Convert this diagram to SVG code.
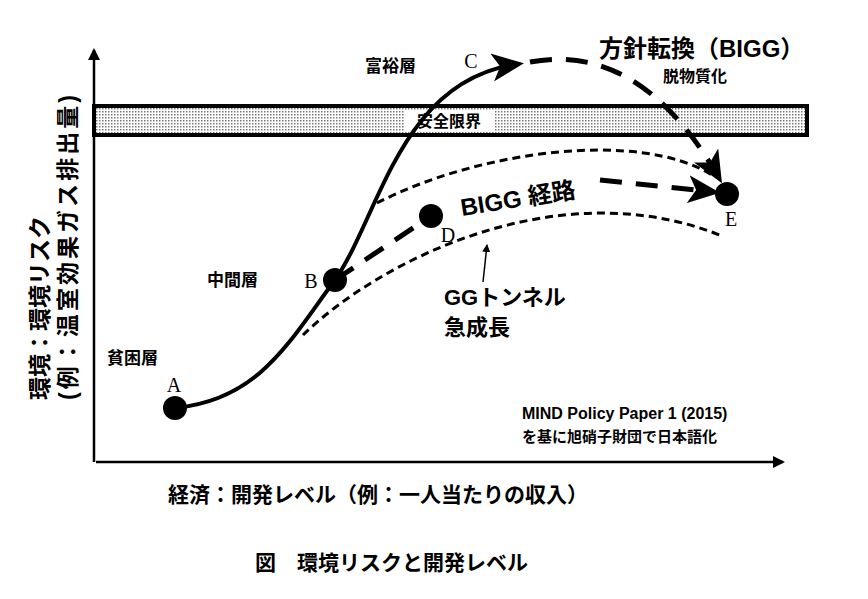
<svg xmlns="http://www.w3.org/2000/svg" width="868" height="599" viewBox="0 0 868 599">
<defs>
<pattern id="dots" width="3" height="3" patternUnits="userSpaceOnUse"><rect width="3" height="3" fill="#fff"/><rect width="1.5" height="1.5" fill="#777"/></pattern>
<marker id="ah" markerWidth="12" markerHeight="12" refX="10" refY="6" orient="auto" markerUnits="userSpaceOnUse"><path d="M0,0 L12,6 L0,12 Z" fill="#000"/></marker>
<marker id="ahs" markerWidth="8" markerHeight="8" refX="7" refY="4" orient="auto" markerUnits="userSpaceOnUse"><path d="M0,0 L8,4 L0,8 Z" fill="#000"/></marker>
<marker id="ahb" markerWidth="32" markerHeight="28" refX="26" refY="14" orient="auto" markerUnits="userSpaceOnUse"><path d="M0,0 L32,14 L0,28 L8,14 Z" fill="#000"/></marker>
<style>
text{font-family:"Liberation Sans","Noto Sans CJK JP",sans-serif;font-weight:bold;fill:#000}
.s{font-family:"Liberation Serif","Noto Sans CJK JP",serif;font-weight:normal;font-size:20px}
.thin{fill:none;stroke:#000;stroke-width:3;stroke-dasharray:8 5}
.thick{fill:none;stroke:#000;stroke-width:5;stroke-dasharray:22 14}
</style>
</defs>
<rect width="868" height="599" fill="#fff"/>
<g id="axes">
<line x1="94" y1="462" x2="94" y2="50" stroke="#000" stroke-width="2.5" marker-end="url(#ah)"/>
<line x1="96" y1="462" x2="783" y2="462" stroke="#000" stroke-width="2.5" marker-end="url(#ah)"/>
</g>
<g id="band">
<rect x="94" y="106" width="713" height="29" fill="url(#dots)" stroke="#000" stroke-width="4"/>
<rect x="404" y="110" width="90" height="21" fill="#fff"/>
<text x="449" y="127" font-size="16" text-anchor="middle">安全限界</text>
</g>
<g id="connectors">
<path d="M175,408 C260,400 290,340 335,280 C380,215 400,80 518,64" fill="none" stroke="#000" stroke-width="4" marker-end="url(#ahb)"/>
<path d="M530,62 C620,45 680,110 719,178" class="thick" marker-end="url(#ahb)"/>
<path d="M377,203 C480,150 640,130 712,175" class="thin"/>
<path d="M303,335 C380,260 560,170 722,236" class="thin"/>
<path d="M335,280 L431,216" class="thick"/>
<path d="M600,180 L714,192" class="thick" marker-end="url(#ahb)"/>
<line x1="483" y1="282" x2="487" y2="245" stroke="#000" stroke-width="1.5" marker-end="url(#ahs)"/>
</g>
<g id="A"><circle cx="175" cy="408" r="12"/><text x="174" y="392" class="s" text-anchor="middle">A</text><text x="107" y="364" font-size="17">貧困層</text></g>
<g id="B"><circle cx="335" cy="280" r="12"/><text x="311" y="288" class="s" text-anchor="middle">B</text><text x="207" y="286" font-size="17">中間層</text></g>
<g id="C"><text x="471" y="68" class="s" text-anchor="middle">C</text><text x="365" y="72" font-size="17">富裕層</text></g>
<g id="D"><circle cx="431" cy="216" r="12"/><text x="448" y="242" class="s" text-anchor="middle">D</text></g>
<g id="E"><circle cx="727" cy="194" r="12"/><text x="731" y="226" class="s" text-anchor="middle">E</text></g>
<g id="labels">
<text x="599" y="57" font-size="24">方針転換（BIGG）</text>
<text x="663" y="82" font-size="16">脱物質化</text>
<text x="462" y="216" font-size="24" transform="rotate(-9 462 216)">BIGG 経路</text>
<text x="444" y="305" font-size="22">GGトンネル</text>
<text x="444" y="335" font-size="22">急成長</text>
<text x="522" y="419" font-size="16">MIND Policy Paper 1 (2015)</text>
<text x="522" y="442" font-size="15">を基に旭硝子財団で日本語化</text>
<text x="168" y="502" font-size="21">経済：開発レベル（例：一人当たりの収入）</text>
<text x="255" y="570" font-size="21">図　環境リスクと開発レベル</text>
<text transform="translate(48,400) rotate(-90)" font-size="23">環境：環境リスク</text>
<text transform="translate(76,400) rotate(-90)" font-size="23" textLength="305">(例：温室効果ガス排出量)</text>
</g>
</svg>
